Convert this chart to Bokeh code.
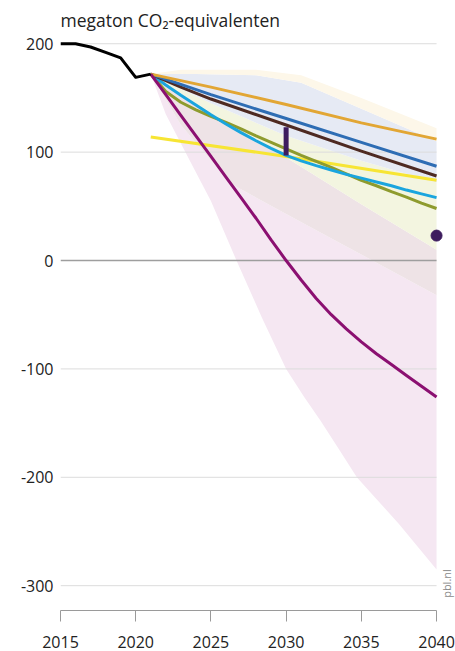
from bokeh.plotting import figure
from bokeh.models import Range1d, FixedTicker
from bokeh.core.properties import value
from bokeh.embed import file_html
from bokeh.resources import INLINE

# ---------------- data ----------------
title_text = "megaton CO\u2082-equivalenten"
source_text = "pbl.nl"

x_ticks = [2015, 2020, 2025, 2030, 2035, 2040]
y_ticks = [-300, -200, -100, 0, 100, 200]
y_tick_labels = {-300: "-300", -200: "-200", -100: "-100", 0: "0", 100: "100", 200: "200"}

hist_years = [2015, 2016, 2017, 2018, 2019, 2020, 2021]
hist_vals = [200, 200, 197, 192, 187, 169, 172]

orange_years = [2021, 2025, 2030, 2035, 2040]
orange_vals = [172, 160, 144, 127, 112]

blue_years = [2021, 2025, 2030, 2035, 2040]
blue_vals = [172, 153, 131, 109, 87]

brown_years = [2021, 2023, 2025, 2030, 2035, 2040]
brown_vals = [172, 160, 149, 125, 101, 78]

yellow_years = [2021, 2030, 2040]
yellow_vals = [114, 96, 74]

cyan_years = [2021, 2022, 2023, 2024, 2025, 2026, 2027, 2028, 2029, 2030,
              2031, 2032, 2033, 2034, 2035, 2036, 2037, 2038, 2039, 2040]
cyan_vals = [172, 162, 152.5, 143.5, 134.5, 126, 118, 110.5, 103.5, 97,
             92, 87.5, 83.5, 79.5, 76, 72.5, 69, 65, 61.5, 58]

olive_years = [2021, 2022, 2023, 2024, 2025, 2026, 2027, 2028, 2029, 2030,
               2031, 2032, 2033, 2034, 2035, 2036, 2037, 2038, 2039, 2040]
olive_vals = [172, 156, 146, 139, 133, 127.5, 121.5, 115, 109, 103,
              97, 91.5, 86, 80, 74, 69, 63.5, 58.5, 53, 48]

magenta_years = [2021, 2022, 2023, 2024, 2025, 2026, 2027, 2028, 2029, 2030,
                 2031, 2032, 2033, 2034, 2035, 2036, 2037, 2038, 2039, 2040]
magenta_vals = [172, 153, 134, 115, 96, 77, 58, 39, 19, 0,
                -18, -35, -50, -63, -75, -86, -96, -106, -116, -126]

range_year = 2030
range_low, range_high = 97, 123

dot_year, dot_val = 2040, 23

# shaded band edges
cream_top_years = [2021, 2023, 2028, 2031, 2035, 2040]
cream_top_vals = [172, 176, 176, 171, 150, 122]

bluegray_top_years = [2021, 2024, 2028, 2031, 2035, 2040]
bluegray_top_vals = [172, 172, 171, 164, 140, 110]

bluegray_low_years = [2021, 2025, 2030, 2035, 2040]
bluegray_low_vals = [172, 145, 115, 92, 72]

green_low_years = [2021, 2025, 2030, 2035, 2040]
green_low_vals = [172, 135, 95, 52, 10]

brown_low_years = [2021, 2023, 2026.3, 2030, 2033.6, 2040]
brown_low_vals = [172, 125, 71, 43, 16, -32]

pink_low_years = [2021, 2022, 2023.6, 2025, 2026.7, 2028.4, 2030, 2031.2, 2032.3,
                  2033.5, 2034.7, 2036, 2037.5, 2040]
pink_low_vals = [172, 135, 92, 55, 0, -53, -100, -126, -148, -174, -200, -220, -243, -285]

grid_vals = [200, 100, -100, -200, -300]
zero_val = 0

# ---------------- figure ----------------
p = figure(width=455, height=651, output_backend="svg", toolbar_location=None,
           x_range=Range1d(2015, 2041.26), y_range=Range1d(-322.9, 239.9),
           min_border_left=60, min_border_right=0, min_border_top=0, min_border_bottom=41)
p.outline_line_color = None
p.background_fill_color = "white"
p.border_fill_color = "white"
p.xgrid.visible = False
p.ygrid.visible = False

FONT = "Open Sans"

# x axis
xa = p.xaxis[0]
xa.ticker = FixedTicker(ticks=x_ticks)
xa.bounds = (2015, 2040)
xa.axis_line_color = "#9a9a9a"
xa.axis_line_width = 1
xa.major_tick_line_color = "#9a9a9a"
xa.major_tick_in = 0
xa.major_tick_out = 11
xa.minor_tick_line_color = None
xa.major_label_text_font = FONT
xa.major_label_text_font_size = "16px"
xa.major_label_text_color = "#222222"
xa.major_label_standoff = 14

# y axis
ya = p.yaxis[0]
ya.ticker = FixedTicker(ticks=y_ticks)
ya.major_label_overrides = y_tick_labels
ya.axis_line_color = None
ya.major_tick_line_color = None
ya.minor_tick_line_color = None
ya.major_tick_in = 0
ya.major_tick_out = 0
ya.major_label_text_font = FONT
ya.major_label_text_font_size = "16px"
ya.major_label_text_color = "#222222"
ya.major_label_standoff = 7


def band(top_x, top_y, low_x, low_y, color):
    xs = list(top_x) + list(reversed(low_x))
    ys = list(top_y) + list(reversed(low_y))
    p.patch(xs, ys, fill_color=color, line_color=None)


# bands (non-overlapping, stacked from bottom to top)
band(brown_low_years, brown_low_vals, pink_low_years, pink_low_vals, "#f5e7f2")
band(green_low_years, green_low_vals, brown_low_years, brown_low_vals, "#eee3e6")
band(bluegray_low_years, bluegray_low_vals, green_low_years, green_low_vals, "#f3f5e0")
band(bluegray_top_years, bluegray_top_vals, bluegray_low_years, bluegray_low_vals, "#e6eaf4")
band(cream_top_years, cream_top_vals, bluegray_top_years, bluegray_top_vals, "#fdf7e9")

# grid lines
p.segment(x0=[x_ticks[0]] * len(grid_vals), y0=grid_vals,
          x1=[x_ticks[-1]] * len(grid_vals), y1=grid_vals,
          line_color="#dcdcdc", line_width=1)
p.segment(x0=[x_ticks[0]], y0=[zero_val], x1=[x_ticks[-1]], y1=[zero_val],
          line_color="#9e9e9e", line_width=1.3)

# lines
LW = 3
p.line(yellow_years, yellow_vals, line_color="#f7e534", line_width=LW)
p.line(olive_years, olive_vals, line_color="#8e9b2e", line_width=LW, line_join="round")
p.line(cyan_years, cyan_vals, line_color="#1aa5de", line_width=LW, line_join="round")
p.line(brown_years, brown_vals, line_color="#4e2a22", line_width=LW, line_join="round")
p.line(blue_years, blue_vals, line_color="#2e6db4", line_width=LW, line_join="round")
p.line(orange_years, orange_vals, line_color="#e2a634", line_width=LW, line_join="round")
p.line(magenta_years, magenta_vals, line_color="#8b1071", line_width=LW, line_join="round")
p.line(hist_years, hist_vals, line_color="#000000", line_width=3, line_join="round")

p.segment(x0=[range_year], y0=[range_low], x1=[range_year], y1=[range_high],
          line_color="#3d1c5e", line_width=5)
p.scatter([dot_year], [dot_val], size=11, fill_color="#3d1c5e", line_color="#3d1c5e")

# title and source
p.text(x=[2015], y=[221.5], text=[title_text], text_font=value(FONT),
       text_font_size="17.5px", text_color="#222222",
       text_align="left", text_baseline="middle")
p.text(x=[2040.66], y=[-298], text=[source_text], text_font=value(FONT),
       text_font_size="11px", text_color="#8a8a8a", angle=1.5708,
       text_align="center", text_baseline="middle")

open("out.html", "w").write(file_html(p, INLINE))
